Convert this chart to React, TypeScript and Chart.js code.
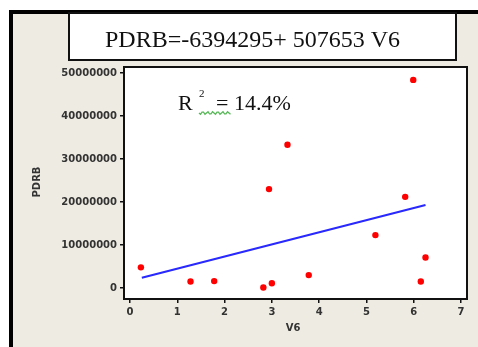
import React, { useEffect, useRef } from "react";
import { Chart, registerables } from "chart.js";

Chart.register(...registerables);

const v6 = [0.23, 1.28, 1.78, 2.82, 3.0, 2.94, 3.33, 3.78, 5.19, 5.82, 5.99, 6.15, 6.25];
const pdrb = [4.8e6, 1.5e6, 1.6e6, 0.1e6, 1.1e6, 23.0e6, 33.3e6, 3.0e6, 12.3e6, 21.2e6, 48.4e6, 1.5e6, 7.1e6];
const fitX = [0.25, 6.25];
const fitY = [2.4e6, 19.3e6];
const xTickValues = [0, 1, 2, 3, 4, 5, 6, 7];
const yTickValues = [0, 10000000, 20000000, 30000000, 40000000, 50000000];
const titleText = "PDRB=-6394295+ 507653 V6";
const r2Text = "14.4%";
const xTitle = "V6";
const yTitle = "PDRB";

const W = 478;
const H = 347;

const decor = {
  id: "decor",
  beforeDraw(chart: any) {
    const { ctx, chartArea: a } = chart;
    ctx.save();
    ctx.fillStyle = "#ffffff";
    ctx.fillRect(0, 0, W, H);
    ctx.fillStyle = "#eeebe2";
    ctx.fillRect(9, 10, W - 9, H - 10);
    ctx.fillStyle = "#000";
    ctx.fillRect(9, 10, W - 9, 4);
    ctx.fillRect(9, 10, 4, H - 10);
    // title box
    ctx.fillStyle = "#fff";
    ctx.fillRect(68, 13, 389, 48);
    ctx.strokeStyle = "#111";
    ctx.lineWidth = 2;
    ctx.strokeRect(69, 13, 387, 47);
    ctx.fillStyle = "#111";
    ctx.font = '24px "Liberation Serif"';
    ctx.textAlign = "left";
    ctx.textBaseline = "alphabetic";
    ctx.fillText(titleText, 105, 47);
    // plot area
    ctx.fillStyle = "#fff";
    ctx.fillRect(a.left, a.top, a.right - a.left, a.bottom - a.top);
    ctx.restore();
  },
  afterDraw(chart: any) {
    const { ctx, chartArea: a } = chart;
    ctx.save();
    ctx.strokeStyle = "#111";
    ctx.lineWidth = 2;
    ctx.strokeRect(a.left - 1, a.top - 1, a.right - a.left + 2, a.bottom - a.top + 2);
    // R^2 text
    ctx.fillStyle = "#111";
    ctx.textAlign = "left";
    ctx.textBaseline = "alphabetic";
    ctx.font = '22px "Liberation Serif"';
    ctx.fillText("R", 178, 110);
    ctx.font = '11px "Liberation Serif"';
    ctx.fillText("2", 199, 97);
    ctx.font = '22px "Liberation Serif"';
    ctx.fillText("=", 216, 110);
    ctx.fillText(r2Text, 234, 110);
    // green wavy underline
    ctx.strokeStyle = "#58b858";
    ctx.lineWidth = 1.3;
    ctx.beginPath();
    for (let x = 199; x <= 231; x += 1.5) {
      const y = 113 + 1.4 * Math.sin(((x - 199) / 5) * Math.PI * 2);
      if (x === 199) ctx.moveTo(x, y);
      else ctx.lineTo(x, y);
    }
    ctx.stroke();
    // axis titles
    ctx.fillStyle = "#333";
    ctx.font = 'bold 10px "DejaVu Sans"';
    ctx.textAlign = "center";
    ctx.textBaseline = "middle";
    ctx.fillText(xTitle, 293, 328);
    ctx.translate(37, 182);
    ctx.rotate(-Math.PI / 2);
    ctx.fillText(yTitle, 0, 0);
    ctx.restore();
  },
};

export default function App() {
  const ref = useRef<HTMLCanvasElement>(null);
  useEffect(() => {
    if (!ref.current) return;
    const tickFont = { family: "DejaVu Sans", size: 10, weight: "bold" as const };
    const chart = new Chart(ref.current, {
      type: "scatter",
      data: {
        datasets: [
          {
            label: "fit",
            data: fitX.map((x, i) => ({ x, y: fitY[i] })),
            showLine: true,
            borderColor: "#2828ff",
            borderWidth: 2,
            pointRadius: 0,
            order: 2,
          } as any,
          {
            label: "data",
            data: v6.map((x, i) => ({ x, y: pdrb[i] })),
            backgroundColor: "#ff0000",
            borderWidth: 0,
            pointRadius: 3.2,
            order: 1,
          },
        ],
      },
      options: {
        responsive: false,
        animation: false,
        devicePixelRatio: 1,
        layout: { padding: { top: 68, right: 12, left: 0, bottom: 0 } },
        plugins: { legend: { display: false }, tooltip: { enabled: false } },
        scales: {
          x: {
            type: "linear",
            min: -0.106,
            max: 7.106,
            afterFit: (s: any) => { s.height = 49; },
            afterBuildTicks: (s: any) => { s.ticks = xTickValues.map((v) => ({ value: v })); },
            border: { display: false },
            grid: { display: true, drawOnChartArea: false, drawTicks: true, tickLength: 5, color: "#111", lineWidth: 1.5 },
            ticks: { color: "#333", font: tickFont, padding: 3, maxRotation: 0, callback: (v: any) => String(v) },
          },
          y: {
            type: "linear",
            min: -2326000,
            max: 51163000,
            afterFit: (s: any) => { s.width = 125; },
            afterBuildTicks: (s: any) => { s.ticks = yTickValues.map((v) => ({ value: v })); },
            border: { display: false },
            grid: { display: true, drawOnChartArea: false, drawTicks: true, tickLength: 5, color: "#111", lineWidth: 1.5 },
            ticks: { color: "#333", font: tickFont, padding: 3, callback: (v: any) => String(v) },
          },
        },
      },
      plugins: [decor],
    });
    return () => chart.destroy();
  }, []);
  return (
    <div style={{ position: "fixed", left: 0, top: 0, width: W, height: H }}>
      <canvas ref={ref} width={W} height={H} style={{ display: "block", width: W, height: H }} />
    </div>
  );
}
